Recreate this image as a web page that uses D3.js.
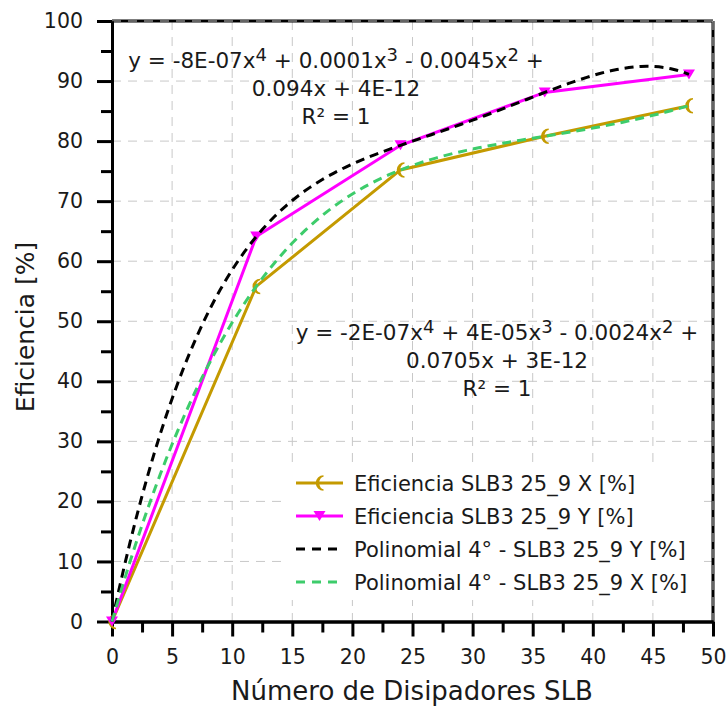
<!DOCTYPE html>
<html><head><meta charset="utf-8">
<script src="https://cdn.jsdelivr.net/npm/d3@7"></script>
<style>
body{margin:0;background:#fff}
svg text{font-family:"DejaVu Sans",sans-serif;fill:#1a1a1a}
</style></head>
<body><svg id="chart" width="726" height="708"></svg>
<script>
// ---------- data ----------
const numDisipadores = [0, 12, 24, 36, 48];
const eficienciaX = [0, 55.8, 75.2, 80.8, 85.9];
const eficienciaY = [0, 64.1, 79.3, 88.1, 91.1];
const xTickValues = [0, 5, 10, 15, 20, 25, 30, 35, 40, 45, 50];
const yTickValues = [0, 10, 20, 30, 40, 50, 60, 70, 80, 90, 100];
const xMinorTicks = [2.5, 7.5, 12.5, 17.5, 22.5, 27.5, 32.5, 37.5, 42.5, 47.5];
const yMinorTicks = [5, 15, 25, 35, 45, 55, 65, 75, 85, 95];
const legendLabels = [
  "Eficiencia SLB3 25_9 X [%]",
  "Eficiencia SLB3 25_9 Y [%]",
  "Polinomial 4° - SLB3 25_9 Y [%]",
  "Polinomial 4° - SLB3 25_9 X [%]"
];
const eqYLines = [
  [["y = -8E-07x"], ["4", 1], [" + 0.0001x"], ["3", 1], [" - 0.0045x"], ["2", 1], [" +"]],
  [["0.094x + 4E-12"]],
  [["R² = 1"]]
];
const eqXLines = [
  [["y = -2E-07x"], ["4", 1], [" + 4E-05x"], ["3", 1], [" - 0.0024x"], ["2", 1], [" +"]],
  [["0.0705x + 3E-12"]],
  [["R² = 1"]]
];
const xTitle = "Número de Disipadores SLB";
const yTitle = "Eficiencia [%]";

// ---------- styles ----------
const C_GOLD = "#C49A00", C_MAG = "#FF00FF", C_BLACK = "#000000", C_GREEN = "#3DCC6B";

const svg = d3.select("#chart");
const L = 112, R = 713, T = 21, B = 621.5;
const x = d3.scaleLinear().domain([0, 50]).range([L, R]);
const y = d3.scaleLinear().domain([0, 100]).range([B, T]);

// grid
const grid = svg.append("g");
grid.selectAll(".gv").data(xTickValues.slice(1)).join("line")
  .attr("x1", d => x(d)).attr("x2", d => x(d)).attr("y1", T).attr("y2", B)
  .attr("stroke", "#c8c8c8").attr("stroke-width", 1).attr("stroke-dasharray", "9,7");
grid.selectAll(".gh").data(yTickValues.slice(1)).join("line")
  .attr("x1", L).attr("x2", R).attr("y1", d => y(d)).attr("y2", d => y(d))
  .attr("stroke", "#c8c8c8").attr("stroke-width", 1).attr("stroke-dasharray", "9,7");

// frame top/right
svg.append("line").attr("x1", L).attr("x2", R).attr("y1", T).attr("y2", T).attr("stroke", "#000").attr("stroke-width", 3);
svg.append("line").attr("x1", R).attr("x2", R).attr("y1", T).attr("y2", B).attr("stroke", "#000").attr("stroke-width", 3);
svg.append("line").attr("x1", L).attr("x2", R).attr("y1", T).attr("y2", T).attr("stroke", "#c8c8c8").attr("stroke-width", 1).attr("stroke-dasharray", "9,7");
svg.append("line").attr("x1", R).attr("x2", R).attr("y1", T).attr("y2", B).attr("stroke", "#c8c8c8").attr("stroke-width", 1).attr("stroke-dasharray", "9,7");

// axes
function styleAxis(g) {
  g.select(".domain").attr("stroke", "#000").attr("stroke-width", 3);
  g.selectAll(".tick line").attr("stroke", "#000").attr("stroke-width", 3);
  g.selectAll(".tick text").attr("font-size", 20.5).attr("fill", "#1a1a1a")
    .attr("font-family", "DejaVu Sans");
}
svg.append("g").attr("transform", `translate(0,${B})`)
  .call(d3.axisBottom(x).tickValues(xMinorTicks).tickFormat("").tickSize(11).tickSizeOuter(0)).call(styleAxis);
svg.append("g").attr("transform", `translate(${L},0)`)
  .call(d3.axisLeft(y).tickValues(yMinorTicks).tickFormat("").tickSize(11).tickSizeOuter(0)).call(styleAxis);
svg.append("g").attr("transform", `translate(0,${B})`)
  .call(d3.axisBottom(x).tickValues(xTickValues).tickSize(15).tickSizeOuter(0).tickPadding(13)).call(styleAxis);
svg.append("g").attr("transform", `translate(${L},0)`)
  .call(d3.axisLeft(y).tickValues(yTickValues).tickSize(15).tickSizeOuter(0).tickPadding(14)).call(styleAxis);

// titles
svg.append("text").attr("x", 412).attr("y", 700).attr("text-anchor", "middle").attr("font-size", 26).text(xTitle);
svg.append("text").attr("transform", "translate(34,327) rotate(-90)").attr("text-anchor", "middle").attr("font-size", 25).text(yTitle);

// trendline (order-4 polynomial through the 5 points, as Excel trendline)
function polyTrend(xs, ys) {
  const f = t => ys.reduce((s, yi, i) => s + yi * xs.reduce((p, xj, j) => j === i ? p : p * (t - xj) / (xs[i] - xj), 1), 0);
  const pts = [];
  for (let t = xs[0]; t <= xs[xs.length - 1] + 1e-9; t += 0.5) pts.push([t, f(t)]);
  return pts;
}

const lineGen = d3.line().x(d => x(d[0])).y(d => y(d[1]));
const zip = (a, b) => a.map((v, i) => [v, b[i]]);

// series lines
svg.append("path").attr("d", lineGen(zip(numDisipadores, eficienciaX))).attr("fill", "none").attr("stroke", C_GOLD).attr("stroke-width", 3);
svg.append("path").attr("d", lineGen(zip(numDisipadores, eficienciaY))).attr("fill", "none").attr("stroke", C_MAG).attr("stroke-width", 3);

// markers
const crescent = "M4,-7 A7,7 0 0,0 4,7 A5,7 0 0,1 4,-7 Z";
const triDown = "M-6,-5 L6,-5 L0,5 Z";
svg.append("g").selectAll("path").data(zip(numDisipadores, eficienciaX)).join("path")
  .attr("transform", d => `translate(${x(d[0])},${y(d[1])})`).attr("d", crescent).attr("fill", C_GOLD).attr("stroke", C_GOLD).attr("stroke-width", 1.5);
svg.append("g").selectAll("path").data(zip(numDisipadores, eficienciaY)).join("path")
  .attr("transform", d => `translate(${x(d[0])},${y(d[1])})`).attr("d", triDown).attr("fill", C_MAG);

// trendlines
svg.append("path").attr("d", lineGen(polyTrend(numDisipadores, eficienciaY)))
  .attr("fill", "none").attr("stroke", C_BLACK).attr("stroke-width", 3).attr("stroke-dasharray", "9,6");
svg.append("path").attr("d", lineGen(polyTrend(numDisipadores, eficienciaX)))
  .attr("fill", "none").attr("stroke", C_GREEN).attr("stroke-width", 3).attr("stroke-dasharray", "9,6");

// equations
function eq(lines, cx, y0, dy) {
  lines.forEach((segs, i) => {
    const t = svg.append("text").attr("x", cx).attr("y", y0 + i * dy).attr("text-anchor", "middle").attr("font-size", 21.5);
    segs.forEach(s => {
      if (s[1]) t.append("tspan").attr("dy", -7).attr("font-size", 18).text(s[0]);
      else t.append("tspan").attr("dy", s === segs[0] ? 0 : 7).text(s[0]);
    });
  });
}
eq(eqYLines, 336, 68, 28);
eq(eqXLines, 497, 340, 28);

// legend
const lg = svg.append("g");
lg.append("rect").attr("x", 285).attr("y", 466).attr("width", 418).attr("height", 134).attr("fill", "#fff");
const rowY = [483, 516, 549, 582];
const legendStyles = [
  {c: C_GOLD, dash: null, m: crescent},
  {c: C_MAG, dash: null, m: triDown},
  {c: C_BLACK, dash: "9,7", m: null},
  {c: C_GREEN, dash: "9,7", m: null}
];
legendStyles.forEach((s, i) => {
  lg.append("line").attr("x1", 296).attr("x2", 343).attr("y1", rowY[i]).attr("y2", rowY[i])
    .attr("stroke", s.c).attr("stroke-width", 3).attr("stroke-dasharray", s.dash);
  if (s.m) lg.append("path").attr("transform", `translate(319.5,${rowY[i]})`).attr("d", s.m).attr("fill", s.c)
    .attr("stroke", s.m === crescent ? s.c : "none").attr("stroke-width", 1.5);
  lg.append("text").attr("x", 354).attr("y", rowY[i] + 7.5).attr("font-size", 21).text(legendLabels[i]);
});
</script></body></html>
